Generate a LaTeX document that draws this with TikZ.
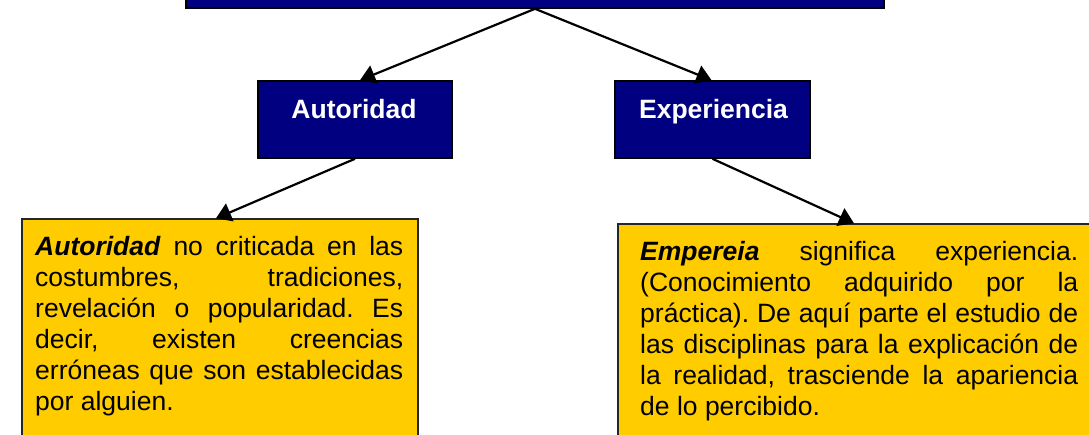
\documentclass[tikz,border=0pt]{standalone}
\usepackage{fontspec}
\setmainfont{Liberation Sans}
\usetikzlibrary{arrows.meta}
\definecolor{navy}{HTML}{000080}
\definecolor{gold}{HTML}{FFCC00}
\tikzset{
  every node/.style={font=\fontsize{26.5}{31}\selectfont},
  bluebox/.style={draw=black, line width=1.6pt, fill=navy, inner sep=0pt},
  yellowbox/.style={draw=black!85, line width=1.4pt, fill=gold, inner sep=0pt},
  lbl/.style={text=white, font=\fontsize{26.5}{31}\selectfont\bfseries, inner sep=0pt, anchor=base},
  bodytext/.style={inner sep=0pt, anchor=north west, text=black, align=justify},
  arr/.style={line width=2.2pt, -{Triangle[length=15pt,width=19pt]}}
}
\frenchspacing
\begin{document}
\begin{tikzpicture}[x=1pt,y=-1pt]
\useasboundingbox (0,0) rectangle (1089,434);
\clip (0,0) rectangle (1089,434);
% top box (only bottom visible)
\node[bluebox, minimum width=698pt, minimum height=40pt] (top) at (535,-12) {};
% second level
\node[bluebox, minimum width=194pt, minimum height=77pt] (auto) at (355,119.5) {};
\node[bluebox, minimum width=195pt, minimum height=77pt] (exp) at (712.5,119.5) {};
\node[lbl] (autolbl) at (354,118) {Autoridad};
\node[lbl] (explbl) at (713.5,118) {Experiencia};
% yellow boxes
\node[yellowbox, minimum width=396pt, minimum height=241pt] (left) at (220,339.5) {};
\node[yellowbox, minimum width=492pt, minimum height=236pt] (right) at (864,342) {};
\node[bodytext, text width=368pt] (lefttxt) at (35,235.5) {\frenchspacing\hyphenpenalty=10000\tolerance=9999\emergencystretch=20pt\rule{0pt}{20pt}\textbf{\textit{Autoridad}} no criticada en las\linebreak costumbres, tradiciones,\linebreak revelación o popularidad. Es\linebreak decir, existen creencias\linebreak erróneas que son establecidas\linebreak por alguien.};
\node[bodytext, text width=438pt] (righttxt) at (640,240.5) {\frenchspacing\hyphenpenalty=10000\tolerance=9999\emergencystretch=20pt\rule{0pt}{20pt}\textbf{\textit{Empereia}} significa experiencia.\linebreak (Conocimiento adquirido por la\linebreak práctica). De aquí parte el estudio de\linebreak las disciplinas para la explicación de\linebreak la realidad, trasciende la apariencia\linebreak de lo percibido.};
% connectors
\coordinate (apex) at (top.south);
\draw[arr] (apex) -- ([xshift=5pt]auto.north);
\draw[arr] (apex) -- ([xshift=-1pt]exp.north);
\draw[arr] (auto.south) -- ([xshift=-4pt]left.north);
\draw[arr] (exp.south) -- ([xshift=-10pt]right.north);
\end{tikzpicture}
\end{document}
